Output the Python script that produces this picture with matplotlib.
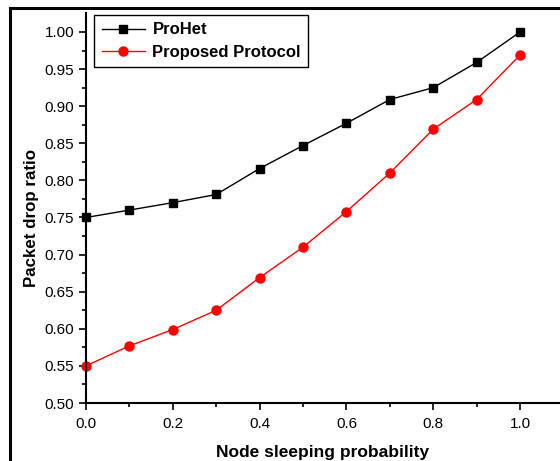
import numpy as np
import matplotlib.pyplot as plt
from matplotlib.patches import Rectangle

plt.rcParams['font.family'] = ['Liberation Sans', 'DejaVu Sans']

prob = [0.0, 0.1, 0.2, 0.3, 0.4, 0.5, 0.6, 0.7, 0.8, 0.9, 1.0]
prohet = [0.750, 0.760, 0.770, 0.781, 0.816, 0.847, 0.877, 0.909, 0.925, 0.959, 1.000]
proposed = [0.550, 0.577, 0.599, 0.625, 0.669, 0.710, 0.758, 0.810, 0.869, 0.909, 0.969]

fig = plt.figure(figsize=(5.6, 4.61), dpi=100)
ax = fig.add_axes([86/560, 1 - 403/461, 1 - 86/560, (403 - 13)/461])

ax.plot(prob, prohet, color='black', lw=1, marker='s', ms=5.8, label='ProHet', clip_on=False)
ax.plot(prob, proposed, color='red', lw=1, marker='o', ms=6.5, label='Proposed Protocol', clip_on=False)

ax.set_xlim(0, 1.092)
ax.set_ylim(0.5, 1.0256)
ax.set_xticks([0.0, 0.2, 0.4, 0.6, 0.8, 1.0])
ax.set_xticks(np.arange(0.1, 1.0, 0.2), minor=True)
ax.set_yticks(np.arange(0.5, 1.001, 0.05))
ax.set_yticks(np.arange(0.525, 1.0, 0.05), minor=True)
ax.set_yticklabels(['%.2f' % v for v in np.arange(0.5, 1.001, 0.05)])
ax.tick_params(which='major', direction='out', length=5, width=1.2, labelsize=11)
ax.tick_params(which='minor', direction='out', length=3, width=1.2)
ax.tick_params(axis='x', pad=5)

for s in ['top', 'right']:
    ax.spines[s].set_visible(False)
for s in ['left', 'bottom']:
    ax.spines[s].set_linewidth(1.5)

ax.set_xlabel('Node sleeping probability', fontsize=12.5, fontweight='bold', labelpad=10)
ax.set_ylabel('Packet drop ratio', fontsize=12.2, fontweight='bold', labelpad=4, y=0.475)

leg = ax.legend(loc='upper left', bbox_to_anchor=(0.017, 0.995), prop={'weight': 'bold', 'size': 12},
                fancybox=False, edgecolor='black', framealpha=1, handlelength=2.6,
                handletextpad=0.45, borderpad=0.45, labelspacing=0.45, borderaxespad=0)
leg.get_frame().set_linewidth(1.0)

# outer frame (cropped at right and bottom)
fig.patches.append(Rectangle((10/560, -0.1), 1.2, 1 - 8/461 + 0.1, transform=fig.transFigure,
                             fill=False, edgecolor='black', lw=2.2))

fig.savefig('out.png', dpi=100)
